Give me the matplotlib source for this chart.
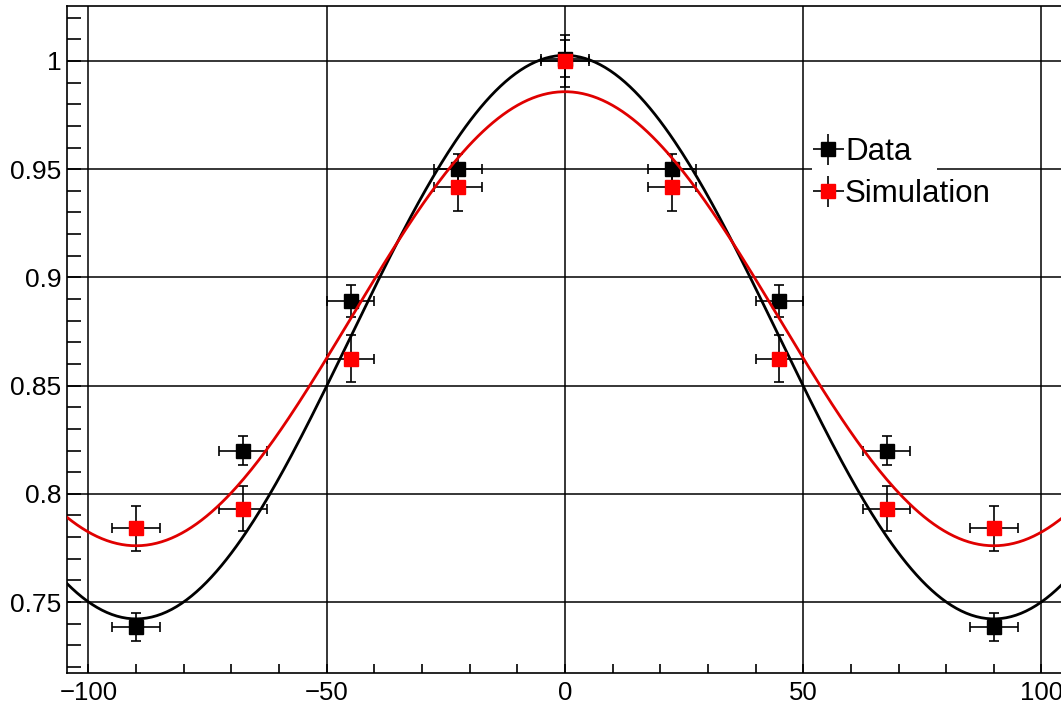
import numpy as np
import matplotlib
matplotlib.use("Agg")
import matplotlib.pyplot as plt
from matplotlib.ticker import MultipleLocator, FuncFormatter
from matplotlib.patches import Rectangle

plt.rcParams['font.family'] = ['Liberation Sans', 'DejaVu Sans']

# angle bins (deg) and measured ratios
angle = [-90, -67.5, -45, -22.5, 0, 22.5, 45, 67.5, 90]
angle_err = [5, 5, 5, 5, 5, 5, 5, 5, 5]

data_y = [0.7385, 0.820, 0.889, 0.950, 1.001, 0.950, 0.889, 0.820, 0.7385]
data_yerr = [0.0065, 0.0065, 0.0074, 0.007, 0.0085, 0.007, 0.0074, 0.0065, 0.0065]

sim_y = [0.784, 0.793, 0.8625, 0.9417, 1.000, 0.9417, 0.8625, 0.793, 0.784]
sim_yerr = [0.0104, 0.0104, 0.011, 0.011, 0.0118, 0.011, 0.011, 0.0104, 0.0104]

# fit results, p0 + p1*cos(2x)
data_fit = [0.8724, 0.1302]
sim_fit = [0.8809, 0.1049]


def fitfunc(x, p):
    return p[0] + p[1] * np.cos(np.radians(2 * x))


fig = plt.figure(figsize=(10.61, 7.04), dpi=100)
ax = fig.add_axes([67 / 1061, 31 / 704, 1 - 67 / 1061, (673 - 6) / 704])

xlo, xhi = -104.5, 104.1
xs = np.linspace(xlo, xhi, 400)

ax.grid(True, which='major', color='black', lw=1.1)
ax.set_axisbelow(True)

ax.errorbar(angle, data_y, xerr=angle_err, yerr=data_yerr, fmt='s',
            color='black', ms=10, elinewidth=1.2, capsize=3.5,
            capthick=1.2, zorder=3)
ax.plot(xs, fitfunc(xs, data_fit), color='black', lw=2, zorder=4)
ax.errorbar(angle, sim_y, xerr=angle_err, yerr=sim_yerr, fmt='s',
            color='black', mfc='red', mec='red', ms=10, elinewidth=1.2,
            capsize=3.5, capthick=1.2, zorder=5)
ax.plot(xs, fitfunc(xs, sim_fit), color='#e00000', lw=2, zorder=6)

ax.set_xlim(xlo, xhi)
ax.set_ylim(0.7172, 1.0254)

ax.xaxis.set_major_locator(MultipleLocator(50))
ax.xaxis.set_minor_locator(MultipleLocator(10))
ax.yaxis.set_major_locator(MultipleLocator(0.05))
ax.yaxis.set_minor_locator(MultipleLocator(0.01))
ax.yaxis.set_major_formatter(FuncFormatter(lambda v, pos: '%g' % round(v, 4)))

ax.tick_params(axis='both', which='both', direction='in', top=False,
               right=False, width=1.2, colors='black')
ax.tick_params(axis='y', which='both', length=10, pad=4, labelsize=19)
ax.tick_params(axis='x', which='both', length=6.5, pad=6, labelsize=18.5)

for s in ['left', 'bottom', 'top']:
    ax.spines[s].set_linewidth(1.2)
ax.spines['right'].set_visible(False)

# legend box (narrower than the text, as in the ROOT canvas)
ax.add_patch(Rectangle((812 / 1061, 1 - 212 / 704), 125 / 1061, 84 / 704,
                       transform=fig.transFigure, facecolor='white',
                       edgecolor='none', zorder=2))

# legend entries without caps
p1 = ax.errorbar([np.nan], [np.nan], xerr=[1], yerr=[1], fmt='s', color='black',
                 ms=10, elinewidth=1.2, capsize=0, label='Data')
p2 = ax.errorbar([np.nan], [np.nan], xerr=[1], yerr=[1], fmt='s', color='black',
                 mfc='red', mec='red', ms=10, elinewidth=1.2, capsize=0,
                 label='Simulation')

leg = ax.legend(handles=[p1, p2], loc='upper left',
                bbox_to_anchor=(808 / 1061, 1 - 131 / 704),
                bbox_transform=fig.transFigure, fontsize=22.5,
                handlelength=0.9, handletextpad=0.08, labelspacing=0.38,
                borderpad=0.2, borderaxespad=0, frameon=False)
leg.set_zorder(10)

fig.savefig("out.png", dpi=100)
